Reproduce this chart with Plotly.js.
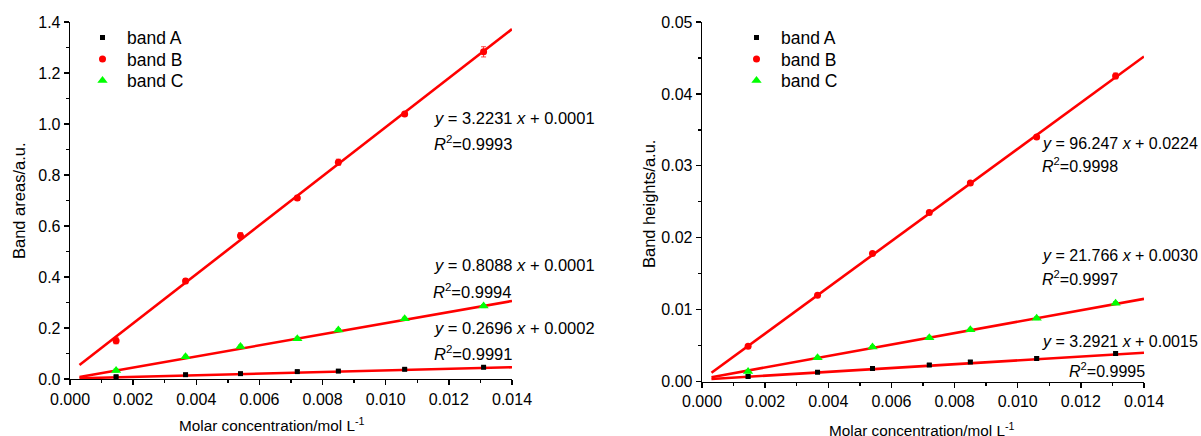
<!DOCTYPE html>
<html>
<head>
<meta charset="utf-8">
<script src="https://cdn.plot.ly/plotly-3.0.1.min.js"></script>
<style>html,body{margin:0;padding:0;background:#fff;}#chart{width:1201px;height:436px;}</style>
</head>
<body>
<div id="chart"></div>
<script>
// ---- data ----
const concentration = [0.00146, 0.00366, 0.0054, 0.0072, 0.0085, 0.0106, 0.0131];

const areaA = [0.009, 0.017, 0.021, 0.029, 0.031, 0.038, 0.046];
const areaB = [0.150, 0.384, 0.562, 0.710, 0.850, 1.039, 1.283];
const areaC = [0.033, 0.087, 0.127, 0.158, 0.192, 0.236, 0.286];
const areaErrA = [0.004, 0.004, 0.004, 0.004, 0.004, 0.004, 0.004];
const areaErrB = [0.012, 0.010, 0.012, 0.010, 0.012, 0.006, 0.020];
const areaErrC = [0.006, 0.006, 0.006, 0.006, 0.006, 0.006, 0.006];

const heightA = [0.0007, 0.0013, 0.0018, 0.0023, 0.0027, 0.0032, 0.0039];
const heightB = [0.0049, 0.0120, 0.0178, 0.0235, 0.0276, 0.0340, 0.0425];
const heightC = [0.0014, 0.0033, 0.0048, 0.0061, 0.0072, 0.0088, 0.0109];
const heightErrA = [0.0002, 0.0002, 0.0002, 0.0002, 0.0002, 0.0002, 0.0002];
const heightErrB = [0.0002, 0.0002, 0.0002, 0.0003, 0.0002, 0.0002, 0.0004];
const heightErrC = [0.0002, 0.0002, 0.0002, 0.0002, 0.0002, 0.0002, 0.0002];

// fitted lines (end points)
const fitX = [0.0003, 0.014];
const fitAreaA = [0.003, 0.046];
const fitAreaB = [0.055, 1.372];
const fitAreaC = [0.008, 0.306];
const fitHeightA = [0.00035, 0.0040];
const fitHeightB = [0.00122, 0.0452];
const fitHeightC = [0.0006, 0.0115];

const seriesNames = ['band A', 'band B', 'band C'];
const areaEquations = ['<i>y</i> = 0.2696 <i>x</i> + 0.0002', '<i>y</i> = 3.2231 <i>x</i> + 0.0001', '<i>y</i> = 0.8088 <i>x</i> + 0.0001'];
const areaR2 = ['<i>R</i><sup>2</sup>=0.9991', '<i>R</i><sup>2</sup>=0.9993', '<i>R</i><sup>2</sup>=0.9994'];
const heightEquations = ['<i>y</i> = 3.2921 <i>x</i> + 0.0015', '<i>y</i> = 96.247 <i>x</i> + 0.0224', '<i>y</i> = 21.766 <i>x</i> + 0.0030'];
const heightR2 = ['<i>R</i><sup>2</sup>=0.9995', '<i>R</i><sup>2</sup>=0.9998', '<i>R</i><sup>2</sup>=0.9997'];
const xTitle = 'Molar concentration/mol L<sup>-1</sup>';
const yTitleLeft = 'Band areas/a.u.';
const yTitleRight = 'Band heights/a.u.';

// ---- styles ----
const FONT = 'Liberation Sans, Arial, Helvetica, sans-serif';
const markerStyles = [
  {symbol: 'square', size: 5, color: '#000000'},
  {symbol: 'circle', size: 7, color: '#ff0000'},
  {symbol: 'triangle-up', size: 9, color: '#00ff00'}
];
const errColors = ['rgba(0,0,0,0.8)', 'rgba(255,0,0,0.75)', 'rgba(0,200,0,0.8)'];

const W = 1201, H = 436;
const px = v => v / W;
const py = v => 1 - v / H;

const traces = [];
function addPanel(ys, errs, fits, xa, ya, legendIds) {
  fits.forEach(f => {
    traces.push({x: fitX, y: f, xaxis: xa, yaxis: ya, mode: 'lines',
      line: {color: '#ff0000', width: 2.6}, showlegend: false, hoverinfo: 'skip'});
  });
  ys.forEach((y, i) => {
    traces.push({x: concentration, y: y, xaxis: xa, yaxis: ya, mode: 'markers',
      name: seriesNames[i], legend: legendIds[i],
      marker: {symbol: markerStyles[i].symbol, size: markerStyles[i].size, color: markerStyles[i].color, line: {width: 0}},
      error_y: {type: 'data', array: errs[i], visible: true, color: errColors[i], thickness: 1, width: 2.5}
    });
  });
}
addPanel([areaA, areaB, areaC], [areaErrA, areaErrB, areaErrC], [fitAreaA, fitAreaB, fitAreaC], 'x', 'y', ['legend', 'legend2', 'legend3']);
addPanel([heightA, heightB, heightC], [heightErrA, heightErrB, heightErrC], [fitHeightA, fitHeightB, fitHeightC], 'x2', 'y2', ['legend4', 'legend5', 'legend6']);

function xAxis(domain, anchor) {
  return {domain: domain, anchor: anchor, range: [0, 0.014], dtick: 0.002, tick0: 0,
    tickformat: '.3f', showgrid: false, zeroline: false, showline: true, linecolor: '#000', linewidth: 1.3,
    ticks: 'outside', ticklen: 5, tickwidth: 1.3, tickcolor: '#000',
    minor: {dtick: 0.001, ticks: 'outside', ticklen: 3, tickwidth: 1.3, tickcolor: '#000'},
    tickfont: {family: FONT, size: 16, color: '#000'}, fixedrange: true};
}
function yAxis(domain, anchor, range, dtick, fmt) {
  return {domain: domain, anchor: anchor, range: range, dtick: dtick, tick0: 0,
    tickformat: fmt, showgrid: false, zeroline: false, showline: true, linecolor: '#000', linewidth: 1.3,
    ticks: 'outside', ticklen: 5, tickwidth: 1.3, tickcolor: '#000',
    minor: {dtick: dtick / 2, ticks: 'outside', ticklen: 3, tickwidth: 1.3, tickcolor: '#000'},
    tickfont: {family: FONT, size: 16, color: '#000'}, fixedrange: true};
}

const annFont = {family: FONT, size: 16.5, color: '#000'};
const annFontR = {family: FONT, size: 16, color: '#000'};
const annotations = [];
function textAt(text, x, y, anchor, font, extra) {
  annotations.push(Object.assign({text: text, xref: 'paper', yref: 'paper', x: px(x), y: py(y),
    xanchor: anchor || 'left', yanchor: 'middle', showarrow: false, font: font || annFont}, extra || {}));
}
// left panel equations
textAt(areaEquations[1], 432, 118); textAt(areaR2[1], 432, 143);
textAt(areaEquations[2], 432, 265); textAt(areaR2[2], 431, 291);
textAt(areaEquations[0], 432, 328); textAt(areaR2[0], 432, 353);
// right panel equations
textAt(heightEquations[1], 1040, 143, 'left', annFontR); textAt(heightR2[1], 1040, 165, 'left', annFontR);
textAt(heightEquations[2], 1040, 255, 'left', annFontR); textAt(heightR2[2], 1040, 278, 'left', annFontR);
textAt(heightEquations[0], 1040, 341, 'left', annFontR); textAt(heightR2[0], 1067, 370, 'left', annFontR);
// axis titles
const titleFont = {family: FONT, size: 15.3, color: '#000'};
const yTitleFont = {family: FONT, size: 16.5, color: '#000'};
textAt(xTitle, 272, 424, 'center', titleFont);
textAt(xTitle, 922, 429, 'center', titleFont);
textAt(yTitleLeft, 19, 201, 'center', yTitleFont, {textangle: -90});
textAt(yTitleRight, 649, 204, 'center', yTitleFont, {textangle: -90});

const legendBase = {font: {family: FONT, size: 17.5, color: '#000'}, bgcolor: 'rgba(0,0,0,0)',
  borderwidth: 0, xanchor: 'left', yanchor: 'top', itemsizing: 'trace', itemwidth: 39};
const legendTops = [19.5, 41, 62.5];
const L = (x, i) => Object.assign({x: px(x), y: py(legendTops[i])}, legendBase);

const layout = {
  width: W, height: H, margin: {l: 0, r: 0, t: 0, b: 0},
  paper_bgcolor: '#fff', plot_bgcolor: 'rgba(0,0,0,0)',
  font: {family: FONT, color: '#000'},
  xaxis: xAxis([px(70), px(512)], 'y'),
  yaxis: yAxis([py(379), py(22)], 'x', [0, 1.4], 0.2, '.1f'),
  xaxis2: xAxis([px(702), px(1144)], 'y2'),
  yaxis2: yAxis([py(381.5), py(22)], 'x2', [0, 0.05], 0.01, '.2f'),
  legend: L(78, 0), legend2: L(78, 1), legend3: L(78, 2),
  legend4: L(732, 0), legend5: L(732, 1), legend6: L(732, 2),
  annotations: annotations,
  showlegend: true
};

Plotly.newPlot('chart', traces, layout, {staticPlot: true, displayModeBar: false});
</script>
</body>
</html>
